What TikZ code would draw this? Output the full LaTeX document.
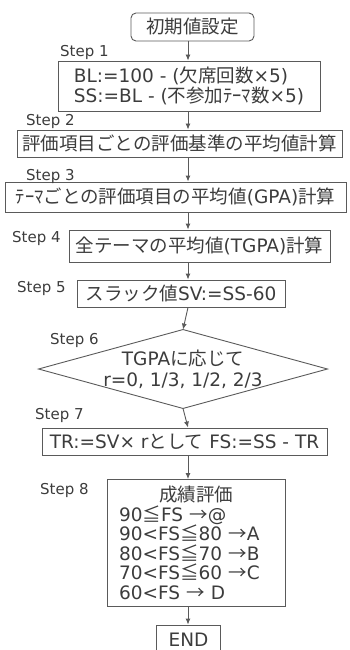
\documentclass[tikz,border=0pt]{standalone}
\usepackage{fontspec}
\setmainfont{DejaVu Sans}
\newfontfamily\jp{Noto Sans CJK JP}
\usetikzlibrary{arrows.meta}
\definecolor{linegray}{HTML}{5A5A5A}
\definecolor{textgray}{HTML}{3C3C3C}
\begin{document}
\begin{tikzpicture}[x=1pt,y=-1pt,
  box/.style={draw=linegray, line width=0.9pt, inner sep=0pt, text=textgray,
    font=\fontsize{18.5}{20.5}\selectfont},
  steplbl/.style={anchor=west, inner sep=0pt, text=textgray,
    font=\fontsize{15}{17}\selectfont},
  arr/.style={draw=linegray, line width=0.9pt, -{Latex[length=6pt,width=5pt]}}]
\useasboundingbox (0,0) rectangle (350,650);
\coordinate (axis) at (188,0);

\node[box, rounded corners=5pt, minimum width=123pt, minimum height=28pt] (start) at (192.5,27) {\jp 初期値設定};
\node[box, minimum width=262pt, minimum height=50pt, align=left] (b1) at (189,86)
  {BL:=100 - ({\jp 欠席回数}×5)\\SS:=BL - ({\jp 不参加ﾃｰﾏ数}×5)};
\node[box, minimum width=325pt, minimum height=27pt] (b2) at (179.5,143.5) {\jp 評価項目ごとの評価基準の平均値計算};
\node[box, minimum width=341pt, minimum height=30pt] (b3) at (175.5,197) {{\jp ﾃｰﾏごとの評価項目の平均値}(GPA){\jp 計算}};
\node[box, minimum width=261pt, minimum height=32pt] (b4) at (199.5,246) {{\jp 全テーマの平均値}(TGPA){\jp 計算}};
\node[box, minimum width=208pt, minimum height=27pt] (b5) at (181,293.5) {{\jp スラック値}SV:=SS-60};
\node[box, draw=none, minimum width=288pt, minimum height=78pt, align=center,
  font=\fontsize{18.5}{21}\selectfont] (d) at (183,369) {TGPA{\jp に応じて}\\r=0, 1/3, 1/2, 2/3};
\draw[draw=linegray, line width=0.9pt] (d.north) -- (d.east) -- (d.south) -- (d.west) -- cycle;
\node[box, minimum width=285pt, minimum height=27pt] (b7) at (184.5,441.5) {TR:=SV× r{\jp として} FS:=SS - TR};
\node[box, minimum width=178pt, minimum height=127pt, text width=154pt, inner xsep=12pt,
  font=\fontsize{18.5}{19.5}\selectfont] (b8) at (196,543)
  {\centering{\jp 成績評価}\par\raggedright 90{\jp ≦}FS {\jp →}@\\90<FS{\jp ≦}80 {\jp →}A\\80<FS{\jp ≦}70 {\jp →}B\\70<FS{\jp ≦}60 {\jp →}C\\60<FS {\jp →} D\par};
\node[box, minimum width=64pt, minimum height=30pt] (e) at (188.5,640) {END};

\node[steplbl] (s1) at (60,52) {Step 1};
\node[steplbl] (s2) at (26,121) {Step 2};
\node[steplbl] (s3) at (26,176) {Step 3};
\node[steplbl] (s4) at (12,238) {Step 4};
\node[steplbl] (s5) at (17,288) {Step 5};
\node[steplbl] (s6) at (50,340) {Step 6};
\node[steplbl] (s7) at (35,415) {Step 7};
\node[steplbl] (s8) at (40,490) {Step 8};

\draw[arr] (start.south -| axis) -- (b1.north -| axis);
\draw[arr] (b1.south -| axis) -- (b2.north -| axis);
\draw[arr] (b2.south -| axis) -- (b3.north -| axis);
\draw[arr] (b3.south -| axis) -- (b4.north -| axis);
\draw[arr] (b4.south -| axis) -- (b5.north -| axis);
\draw[arr] (b5.south -| axis) -- (d.north);
\draw[arr] (d.south) -- (b7.north -| axis);
\draw[arr] (b7.south -| axis) -- (b8.north -| axis);
\draw[arr] (b8.south -| axis) -- (e.north -| axis);
\end{tikzpicture}
\end{document}
